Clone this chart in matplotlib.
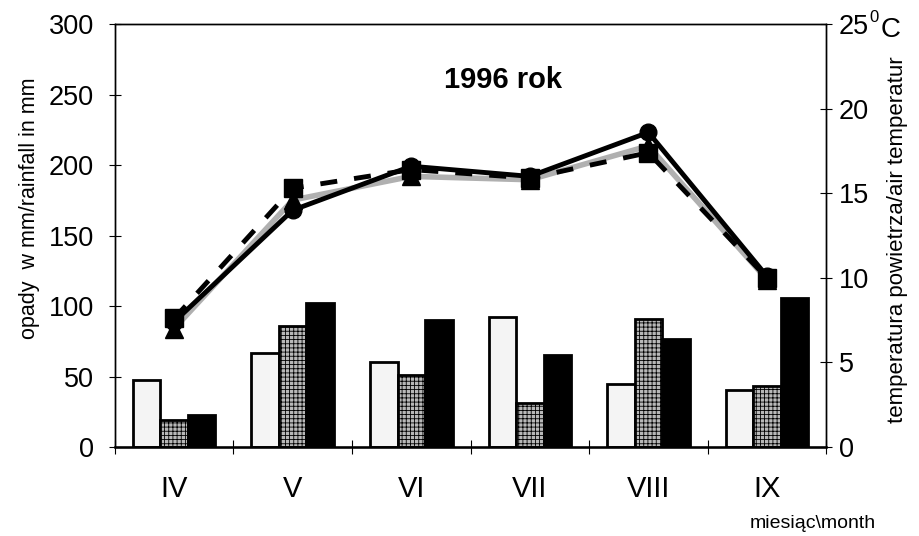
import matplotlib
matplotlib.use("Agg")
import matplotlib.pyplot as plt
import numpy as np

plt.rcParams['font.family'] = ['Liberation Sans', 'DejaVu Sans']
plt.rcParams['hatch.linewidth'] = 0.6

months = ["IV", "V", "VI", "VII", "VIII", "IX"]
rain_a = [47.5, 67, 60, 92, 44.5, 40.5]     # light bars
rain_b = [19.5, 86, 51, 31, 91, 43]         # hatched bars
rain_c = [22.5, 102, 90, 65.5, 76.5, 105.5] # black bars
temp_solid = [7.4, 14.0, 16.6, 16.0, 18.6, 10.1]   # circles
temp_dash = [7.6, 15.3, 16.4, 15.9, 17.4, 10.0]    # squares
temp_gray = [7.0, 14.6, 16.0, 15.8, 17.8, 9.9]     # triangles

fig = plt.figure(figsize=(9.19, 5.36), dpi=100)
ax = fig.add_axes([0.125, 0.166, 0.774, 0.789])
ax2 = ax.twinx()

x = np.arange(len(months))
w = 0.232
ax.bar(x - w, rain_a, w, color='#f4f4f4', edgecolor='black', linewidth=2, zorder=2)
ax.bar(x, rain_b, w, color='#b8b8b8', edgecolor='black', linewidth=2, hatch='++++', zorder=2)
ax.bar(x + w, rain_c, w, color='black', edgecolor='black', linewidth=2, zorder=2)

ax.set_xlim(-0.5, 5.5)
ax.set_ylim(0, 300)
ax2.set_ylim(0, 25)

ax2.plot(x, temp_gray, color='#b0b0b0', linewidth=4, marker='^', markersize=13,
         markerfacecolor='black', markeredgecolor='black', zorder=3)
ax2.plot(x, temp_dash, color='black', linewidth=3.5, linestyle=(0, (3.5, 3.5)), marker='s',
         markersize=13, markerfacecolor='black', markeredgecolor='black', zorder=4)
ax2.plot(x, temp_solid, color='black', linewidth=3.5, marker='o', markersize=12,
         markerfacecolor='black', markeredgecolor='black', zorder=5)

ax.set_yticks(np.arange(0, 301, 50))
ax2.set_yticks(np.arange(0, 26, 5))
ax.set_xticks(np.arange(-0.5, 6.0, 1.0))
ax.set_xticklabels([])
ax.set_xticks(x, minor=True)
ax.set_xticklabels(months, minor=True)

ax.tick_params(axis='y', direction='inout', length=8, width=0.8, labelsize=19.5, pad=11)
ax2.tick_params(axis='y', direction='inout', length=8, width=0.8, labelsize=19.5, pad=5)
ax.tick_params(axis='x', which='major', direction='inout', length=10, width=0.8)
ax.tick_params(axis='x', which='minor', length=0, labelsize=21, pad=20)

for a in (ax, ax2):
    for s in a.spines.values():
        s.set_linewidth(1.0)
ax.spines['bottom'].set_linewidth(1.8)

ax.text((503 - 115) / 711, (447 - 80) / 422.7, "1996 rok", transform=ax.transAxes,
        ha='center', va='center', fontsize=21, fontweight='bold')

fig.text(30/919, 1 - 208/536, "opady  w mm/rainfall in mm", rotation=90,
         ha='center', va='center', fontsize=15.5)
fig.text(898/919, 1 - 240/536, "temperatura powietrza/air temperatur", rotation=90,
         ha='center', va='center', fontsize=16)
fig.text(813/919, 1 - 523/536, "miesiąc\\month", ha='center', va='center', fontsize=14)
fig.text(874/919, 1 - 18/536, "0", ha='center', va='center', fontsize=12)
fig.text(891/919, 1 - 30/536, "C", ha='center', va='center', fontsize=20)

fig.savefig("out.png", dpi=100)
